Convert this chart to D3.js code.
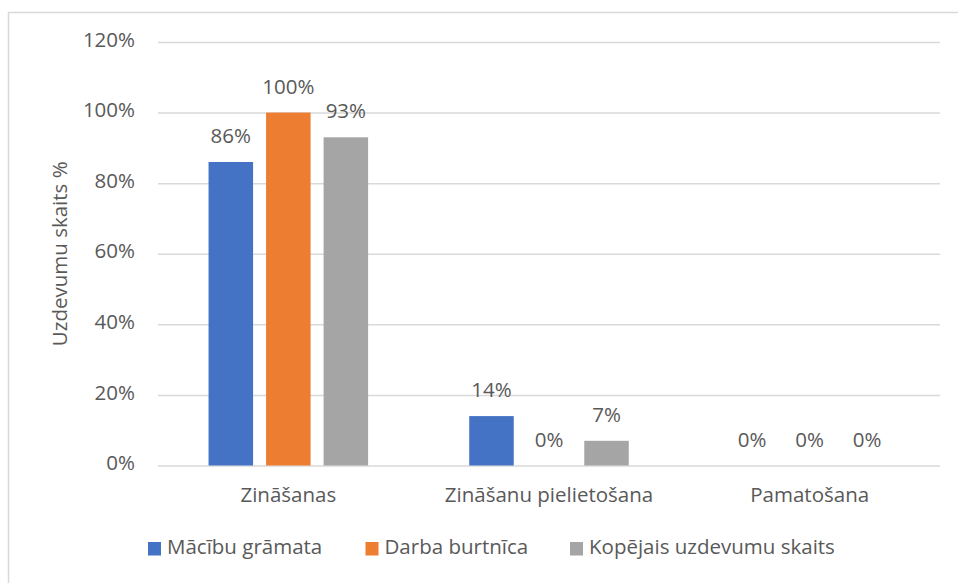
<!DOCTYPE html>
<html>
<head>
<meta charset="utf-8">
<script src="https://cdn.jsdelivr.net/npm/d3@7"></script>
<style>
  body { margin: 0; background: #fff; }
  text { font-family: "Open Sans", sans-serif; fill: #595959; }
</style>
</head>
<body>
<svg id="chart" width="958" height="583"></svg>
<script>
const categories = ['Zināšanas', 'Zināšanu pielietošana', 'Pamatošana'];
const seriesNames = ['Mācību grāmata', 'Darba burtnīca', 'Kopējais uzdevumu skaits'];
const textbook = [86, 14, 0];
const workbook = [100, 0, 0];
const totalCount = [93, 7, 0];
const yTicks = [0, 20, 40, 60, 80, 100, 120];
const colors = ['#4472C4', '#ED7D31', '#A5A5A5'];

const values = [textbook, workbook, totalCount];
const width = 958, height = 583;
const margin = { left: 158, right: 18, top: 42, bottom: 117.5 };
const fontSize = 20.5;

const svg = d3.select('#chart');

// chart frame
svg.append('rect')
  .attr('x', 8.5).attr('y', 12.5)
  .attr('width', 980).attr('height', 620)
  .attr('fill', 'none')
  .attr('stroke', '#d9d9d9')
  .attr('stroke-width', 1.5);

const x0 = d3.scaleBand()
  .domain(categories)
  .range([margin.left, width - margin.right])
  .paddingInner(0.338)
  .paddingOuter(0.169);

const x1 = d3.scaleBand()
  .domain(d3.range(seriesNames.length))
  .range([0, x0.bandwidth()])
  .paddingInner(0.226)
  .paddingOuter(0.113);

const y = d3.scaleLinear()
  .domain([0, 120])
  .range([height - margin.bottom, margin.top]);

// gridlines + tick labels
const yAxis = d3.axisLeft(y)
  .tickValues(yTicks)
  .tickSize(-(width - margin.right - margin.left))
  .tickPadding(23)
  .tickFormat(d => d + '%');

const gy = svg.append('g')
  .attr('transform', `translate(${margin.left},0)`)
  .call(yAxis);
gy.select('.domain').remove();
gy.selectAll('.tick line').attr('stroke', '#d9d9d9').attr('stroke-width', 1.5);
gy.selectAll('.tick text')
  .attr('font-size', fontSize)
  .attr('fill', '#595959')
  .attr('font-family', '"Open Sans", sans-serif')
  .attr('dy', '0.2em');

// bars
const groups = svg.append('g')
  .selectAll('g')
  .data(categories)
  .join('g')
  .attr('transform', d => `translate(${x0(d)},0)`);

groups.selectAll('rect')
  .data((c, ci) => values.map((s, si) => ({ si, v: s[ci] })))
  .join('rect')
  .attr('x', d => x1(d.si))
  .attr('width', x1.bandwidth())
  .attr('y', d => y(d.v))
  .attr('height', d => y(0) - y(d.v))
  .attr('fill', d => colors[d.si]);

groups.selectAll('text.val')
  .data((c, ci) => values.map((s, si) => ({ si, v: s[ci] })))
  .join('text')
  .attr('class', 'val')
  .attr('x', d => x1(d.si) + x1.bandwidth() / 2)
  .attr('y', d => y(d.v) - 19)
  .attr('text-anchor', 'middle')
  .attr('font-size', fontSize)
  .text(d => d.v + '%');

// category labels
svg.append('g')
  .selectAll('text')
  .data(categories)
  .join('text')
  .attr('x', d => x0(d) + x0.bandwidth() / 2)
  .attr('y', 502)
  .attr('text-anchor', 'middle')
  .attr('font-size', fontSize)
  .text(d => d);

// y axis title
svg.append('text')
  .attr('transform', `translate(67,${y(60)}) rotate(-90)`)
  .attr('text-anchor', 'middle')
  .attr('font-size', fontSize)
  .text('Uzdevumu skaits %');

// legend
const legendX = [148, 365.5, 570];
const legend = svg.append('g')
  .selectAll('g')
  .data(seriesNames)
  .join('g')
  .attr('transform', (d, i) => `translate(${legendX[i]},542)`);
legend.append('rect')
  .attr('width', 13).attr('height', 13.5)
  .attr('fill', (d, i) => colors[i]);
legend.append('text')
  .attr('x', 19)
  .attr('y', 12)
  .attr('font-size', fontSize)
  .text(d => d);
</script>
</body>
</html>
